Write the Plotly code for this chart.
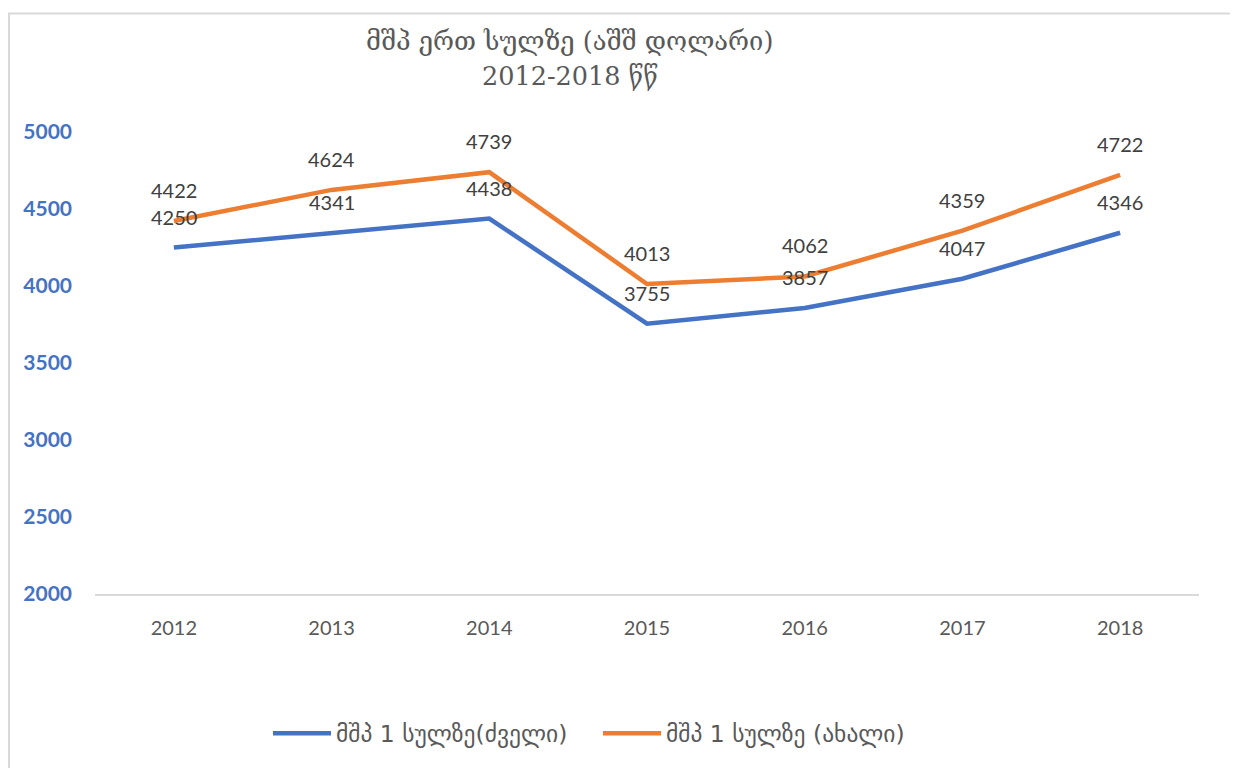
import plotly.graph_objects as go

years = [2012, 2013, 2014, 2015, 2016, 2017, 2018]
year_labels = ["2012", "2013", "2014", "2015", "2016", "2017", "2018"]
old_vals = [4250, 4341, 4438, 3755, 3857, 4047, 4346]
new_vals = [4422, 4624, 4739, 4013, 4062, 4359, 4722]
old_name = "მშპ 1 სულზე(ძველი)"
new_name = "მშპ 1 სულზე (ახალი)"
title_line1 = "მშპ ერთ სულზე (აშშ დოლარი)"
title_line2 = "2012-2018 წწ"
y_ticks = [2000, 2500, 3000, 3500, 4000, 4500, 5000]

BLUE = "#4472C4"
ORANGE = "#ED7D31"

# page body has an 8px margin: figure origin sits at (8, 8) on the page
OFF = 8
W, H = 1230, 760
L, T = 95 - OFF, 132 - OFF
R = W - (1199 - OFF)
B = H - (596 - OFF)
pw, ph = W - L - R, H - T - B

def px(xr):
    return (xr - OFF - L) / pw

def py(yr):
    return (H - B - (yr - OFF)) / ph

fig = go.Figure()
fig.add_trace(go.Scatter(x=years, y=old_vals, mode="lines", name=old_name,
                         line=dict(color=BLUE, width=4.5)))
fig.add_trace(go.Scatter(x=years, y=new_vals, mode="lines", name=new_name,
                         line=dict(color=ORANGE, width=4.5)))

ann = []
for xv, yv in zip(years, old_vals):
    ann.append(dict(x=xv, y=yv, xref="x", yref="y", text=str(yv), showarrow=False,
                    yshift=31, font=dict(family="Lato", size=20, color="#404040")))
for xv, yv in zip(years, new_vals):
    ann.append(dict(x=xv, y=yv, xref="x", yref="y", text=str(yv), showarrow=False,
                    yshift=31, font=dict(family="Lato", size=20, color="#404040")))

title_font = dict(family="DejaVu Serif", size=25.5, color="#595959")
ann.append(dict(text=title_line1, xref="paper", yref="paper", x=px(569), y=py(41),
                xanchor="center", yanchor="middle", showarrow=False, font=title_font))
ann.append(dict(text=title_line2, xref="paper", yref="paper", x=px(570), y=py(76),
                xanchor="center", yanchor="middle", showarrow=False, font=title_font))

fig.update_layout(
    width=W, height=H,
    margin=dict(l=L, r=R, t=T, b=B),
    paper_bgcolor="white", plot_bgcolor="white",
    xaxis=dict(range=[2011.5, 2018.5], tickvals=years, ticktext=year_labels,
               showgrid=False, zeroline=False,
               showline=True, linecolor="#D9D9D9", linewidth=2, ticks="",
               ticklabelstandoff=15,
               tickfont=dict(family="Lato", size=20, color="#595959")),
    yaxis=dict(range=[2000, 5000], tickvals=y_ticks, showgrid=False, zeroline=False,
               showline=False, ticks="", ticklabelstandoff=22,
               tickfont=dict(family="Lato", size=21, color=BLUE, weight="bold")),
    legend=dict(orientation="h", x=px(268), xanchor="left", y=py(736), yanchor="middle",
                font=dict(family="DejaVu Sans", size=23.5, color="#595959"),
                itemwidth=58, entrywidth=257, entrywidthmode="pixels",
                bgcolor="rgba(0,0,0,0)"),
    annotations=ann,
    shapes=[dict(type="rect", xref="paper", yref="paper",
                 x0=px(9), x1=px(1237), y0=py(800), y1=py(13),
                 line=dict(color="#D9D9D9", width=2), fillcolor="rgba(0,0,0,0)",
                 layer="below")],
    showlegend=True,
)

fig.write_html("out.html")
